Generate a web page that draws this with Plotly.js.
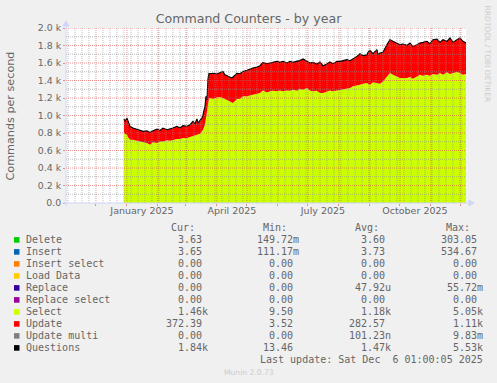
<!DOCTYPE html>
<html><head><meta charset="utf-8">
<script src="https://cdn.plot.ly/plotly-3.0.1.min.js"></script>
<style>html,body{margin:0;padding:0;background:#f0f0f0;overflow:hidden;}</style>
</head><body><div id="chart" style="width:497px;height:383px;"></div>
<script>
// ---- data (daily averages) ----
const dates = ['2024-12-29','2024-12-30','2025-01-01','2025-01-02','2025-01-04','2025-01-07','2025-01-11','2025-01-14','2025-01-17','2025-01-21','2025-01-24','2025-01-27','2025-01-31','2025-02-03','2025-02-06','2025-02-10','2025-02-13','2025-02-16','2025-02-20','2025-02-23','2025-02-26','2025-03-02','2025-03-05','2025-03-08','2025-03-10','2025-03-12','2025-03-13','2025-03-15','2025-03-17','2025-03-18','2025-03-20','2025-03-21','2025-03-22','2025-03-23','2025-03-24','2025-03-25','2025-03-28','2025-04-01','2025-04-04','2025-04-07','2025-04-09','2025-04-12','2025-04-16','2025-04-17','2025-04-21','2025-04-24','2025-04-27','2025-05-01','2025-05-04','2025-05-07','2025-05-11','2025-05-14','2025-05-17','2025-05-21','2025-05-24','2025-05-27','2025-05-31','2025-06-03','2025-06-06','2025-06-10','2025-06-13','2025-06-16','2025-06-20','2025-06-23','2025-06-26','2025-06-30','2025-07-03','2025-07-06','2025-07-10','2025-07-13','2025-07-16','2025-07-20','2025-07-23','2025-07-26','2025-07-30','2025-08-02','2025-08-05','2025-08-09','2025-08-12','2025-08-15','2025-08-19','2025-08-22','2025-08-25','2025-08-29','2025-08-30','2025-09-01','2025-09-04','2025-09-08','2025-09-09','2025-09-11','2025-09-14','2025-09-18','2025-09-21','2025-09-24','2025-09-28','2025-10-01','2025-10-04','2025-10-08','2025-10-11','2025-10-14','2025-10-18','2025-10-21','2025-10-24','2025-10-28','2025-10-31','2025-11-03','2025-11-07','2025-11-10','2025-11-13','2025-11-17','2025-11-20','2025-11-23','2025-11-27','2025-11-30','2025-12-03','2025-12-06'];
const selectVals = [807,792,781,754,724,724,712,704,693,685,666,693,685,704,704,716,712,724,731,731,743,743,754,762,769,781,781,792,819,838,895,980,1067,1150,1195,1200,1192,1207,1211,1200,1189,1173,1150,1143,1189,1192,1219,1219,1230,1238,1246,1257,1287,1264,1276,1283,1276,1287,1276,1287,1283,1295,1283,1303,1295,1314,1287,1276,1283,1257,1257,1276,1287,1276,1283,1295,1295,1306,1314,1333,1341,1352,1364,1372,1364,1352,1379,1372,1364,1364,1390,1447,1486,1467,1440,1429,1429,1429,1440,1421,1447,1467,1455,1467,1455,1474,1467,1486,1467,1493,1474,1486,1497,1486,1467,1474];
const updateVals = [153,141,191,179,152,133,133,126,126,141,141,133,160,126,153,122,133,133,145,126,141,133,141,171,138,179,133,149,153,171,210,239,114,270,285,278,291,267,282,304,277,274,278,297,294,286,285,297,301,305,309,312,320,328,324,324,343,320,343,313,336,312,336,327,351,305,313,331,305,355,312,312,325,316,336,324,335,332,312,313,335,355,320,323,358,393,328,381,331,351,332,363,381,381,381,381,388,373,389,369,363,362,381,381,366,393,407,350,400,355,412,350,370,400,381,355];
const questionsVals = [960,933,972,933,876,857,845,830,819,826,807,826,845,830,857,838,845,857,876,857,884,876,895,933,907,960,914,941,972,1009,1105,1219,1181,1420,1480,1478,1483,1474,1493,1504,1466,1447,1428,1440,1483,1478,1504,1516,1531,1543,1555,1569,1607,1592,1600,1607,1619,1607,1619,1600,1619,1607,1619,1630,1646,1619,1600,1607,1588,1612,1569,1588,1612,1592,1619,1619,1630,1638,1626,1646,1676,1707,1684,1695,1722,1745,1707,1753,1695,1715,1722,1810,1867,1848,1821,1810,1817,1802,1829,1790,1810,1829,1836,1848,1821,1867,1874,1836,1867,1848,1886,1836,1867,1886,1848,1829];

const xTickVals = ['2025-01-16','2025-04-16','2025-07-16','2025-10-16'];
const xTickText = ['January 2025','April 2025','July 2025','October 2025'];
const yTickVals = [0,200,400,600,800,1000,1200,1400,1600,1800,2000];
const yTickText = ['0.0','0.2 k','0.4 k','0.6 k','0.8 k','1.0 k','1.2 k','1.4 k','1.6 k','1.8 k','2.0 k'];

const legendLabels = ['Delete','Insert','Insert select','Load Data','Replace','Replace select','Select','Update','Update multi','Questions'];
const legendColors = ['#00cc00','#0066b3','#ff8000','#ffcc00','#330099','#990099','#ccff00','#ff0000','#808080','#000000'];
const curVals = ['3.63','3.65','0.00','0.00','0.00','0.00','1.46k','372.39','0.00','1.84k'];
const minVals = ['149.72m','111.17m','0.00','0.00','0.00','0.00','9.50','3.52','0.00','13.46'];
const avgVals = ['3.60','3.73','0.00','0.00','47.92u','0.00','1.18k','282.57','101.23n','1.47k'];
const maxVals = ['303.05','534.67','0.00','0.00','55.72m','0.00','5.05k','1.11k','9.83m','5.53k'];
const colHeaders = ['Cur:','Min:','Avg:','Max:'];

// ---- geometry helpers (pixel -> paper) ----
const W = 497, H = 383, PL = 66, PR = 466, PT = 28, PB = 203;
const xp = px => (px - PL) / (PR - PL);
const yp = py => (PB - py) / (PB - PT);

const FONT = 'DejaVu Sans, Verdana, sans-serif';
const MONO = 'DejaVu Sans Mono, monospace';
const TXT = '#666666';
const MGRID = 'rgba(222,79,79,0.6)';
const GRID = 'rgba(143,143,143,0.6)';
const AXIS = '#CFD6F8';

const traces = [
  {x: dates, y: selectVals, name: 'Select', type: 'scatter', mode: 'lines', stackgroup: 'one',
   fillcolor: legendColors[6], line: {width: 0, color: legendColors[6]}},
  {x: dates, y: updateVals, name: 'Update', type: 'scatter', mode: 'lines', stackgroup: 'one',
   fillcolor: legendColors[7], line: {width: 0, color: legendColors[7]}},
  {x: dates, y: questionsVals, name: 'Questions', type: 'scatter', mode: 'lines',
   line: {width: 1.1, color: legendColors[9]}}
];

// ---- grid drawn above the areas (as rrdtool does) ----
const shapes = [];
const xRange = ['2024-11-01 01:00', '2025-12-06 01:00'];
const endT = new Date('2025-12-06T01:00:00Z').getTime();
for (let t = new Date('2024-11-03T00:00:00Z').getTime(); t < endT; t += 7 * 86400000) {
  const d = new Date(t);
  if (d.getUTCDate() === 1) continue;
  shapes.push({type: 'line', xref: 'x', yref: 'paper', x0: d.toISOString().slice(0,10), x1: d.toISOString().slice(0,10), y0: 0, y1: 1,
    line: {color: GRID, width: 1, dash: '1px,1px'}, layer: 'above'});
}
for (let y = 100; y <= 2000; y += 200) {
  shapes.push({type: 'line', xref: 'paper', yref: 'y', x0: 0, x1: 1, y0: y, y1: y,
    line: {color: GRID, width: 1, dash: '1px,1px'}, layer: 'above'});
}
for (let m = 1; m <= 13; m++) {
  const d = new Date(Date.UTC(2024, 10 + m, 1));
  const s = d.toISOString().slice(0,10);
  shapes.push({type: 'line', xref: 'x', yref: 'paper', x0: s, x1: s, y0: 0, y1: 1,
    line: {color: MGRID, width: 1, dash: '1px,1px'}, layer: 'above'});
}
for (let y = 200; y <= 2000; y += 200) {
  shapes.push({type: 'line', xref: 'paper', yref: 'y', x0: 0, x1: 1, y0: y, y1: y,
    line: {color: MGRID, width: 1, dash: '1px,1px'}, layer: 'above'});
}
// axes with arrows
shapes.push({type: 'line', xref: 'paper', yref: 'paper', x0: xp(63), x1: xp(470), y0: yp(203), y1: yp(203), line: {color: AXIS, width: 1}, layer: 'above'});
shapes.push({type: 'line', xref: 'paper', yref: 'paper', x0: xp(66), x1: xp(66), y0: yp(206), y1: yp(24), line: {color: AXIS, width: 1}, layer: 'above'});
shapes.push({type: 'path', xref: 'paper', yref: 'paper', layer: 'above', fillcolor: AXIS, line: {color: AXIS, width: 1},
  path: `M ${xp(469)} ${yp(200)} L ${xp(474)} ${yp(203)} L ${xp(469)} ${yp(206)} Z`});
shapes.push({type: 'path', xref: 'paper', yref: 'paper', layer: 'above', fillcolor: AXIS, line: {color: AXIS, width: 1},
  path: `M ${xp(63)} ${yp(26)} L ${xp(66)} ${yp(21)} L ${xp(69)} ${yp(26)} Z`});

// ---- legend (text annotations + swatches) ----
const annotations = [];
const ann = (text, px, py, anchor, opts = {}) => annotations.push(Object.assign({
  text, x: xp(px), y: yp(py), xref: 'paper', yref: 'paper', xanchor: anchor, yanchor: 'middle',
  showarrow: false, borderpad: 0, borderwidth: 0,
  font: {family: MONO, size: 10, color: TXT}}, opts));

const colRight = [201.7, 293.3, 385.0, 476.7];
const CH = 6.02;
colHeaders.forEach((h, i) => ann(h, colRight[i] - 6.5, 227.7, 'right'));
const cols = [curVals, minVals, avgVals, maxVals];
legendLabels.forEach((lab, r) => {
  const py = 239.7 + 12 * r;
  ann(lab, 26, py, 'left');
  cols.forEach((col, c) => {
    const v = col[r];
    const hasSuffix = /[a-z]$/i.test(v);
    ann(v, colRight[c] + (hasSuffix ? CH : 0), py, 'right');
  });
  shapes.push({type: 'rect', xref: 'paper', yref: 'paper', x0: xp(14), x1: xp(19.5), y0: yp(py - 2.6), y1: yp(py + 3),
    fillcolor: legendColors[r], line: {width: 0}, layer: 'above'});
});
ann('Last update: Sat Dec\u00a0\u00a06 01:00:05 2025', 482.7, 359.7, 'right');
ann('Munin 2.0.73', 248.5, 372.3, 'center', {font: {family: FONT, size: 7.6, color: '#cccccc'}});
ann('RRDTOOL / TOBI OETIKER', 487, 53.5, 'center', {textangle: 90, font: {family: FONT, size: 7.5, color: '#cccccc'}});
ann('Commands per second', 10, 115.5, 'center', {textangle: -90, font: {family: FONT, size: 11.2, color: TXT}});

const layout = {
  width: W, height: H,
  paper_bgcolor: '#f0f0f0', plot_bgcolor: '#ffffff',
  margin: {l: PL, r: W - PR, t: PT, b: H - PB, pad: 0},
  showlegend: false, hovermode: false,
  title: {text: 'Command Counters - by year', x: 0.5, xref: 'container', xanchor: 'center',
    y: 1 - 19 / H, yref: 'container', yanchor: 'middle',
    font: {family: FONT, size: 12.6, color: TXT}},
  xaxis: {type: 'date', range: xRange, tickmode: 'array', tickvals: xTickVals, ticktext: xTickText,
    ticks: '', showgrid: false, zeroline: false, showline: false,
    tickfont: {family: FONT, size: 9.5, color: TXT},
    minor: {tick0: '2025-01-01', dtick: 'M1', ticks: 'outside', ticklen: 2, tickcolor: MGRID, showgrid: false}},
  yaxis: {range: [0, 2000], tickmode: 'array', tickvals: yTickVals, ticktext: yTickText,
    ticks: 'outside', ticklen: 2, tickcolor: MGRID, showgrid: false, zeroline: false, showline: false,
    tickfont: {family: FONT, size: 9.4, color: TXT}},
  shapes, annotations
};

Plotly.newPlot('chart', traces, layout, {staticPlot: true, displayModeBar: false});
</script></body></html>
